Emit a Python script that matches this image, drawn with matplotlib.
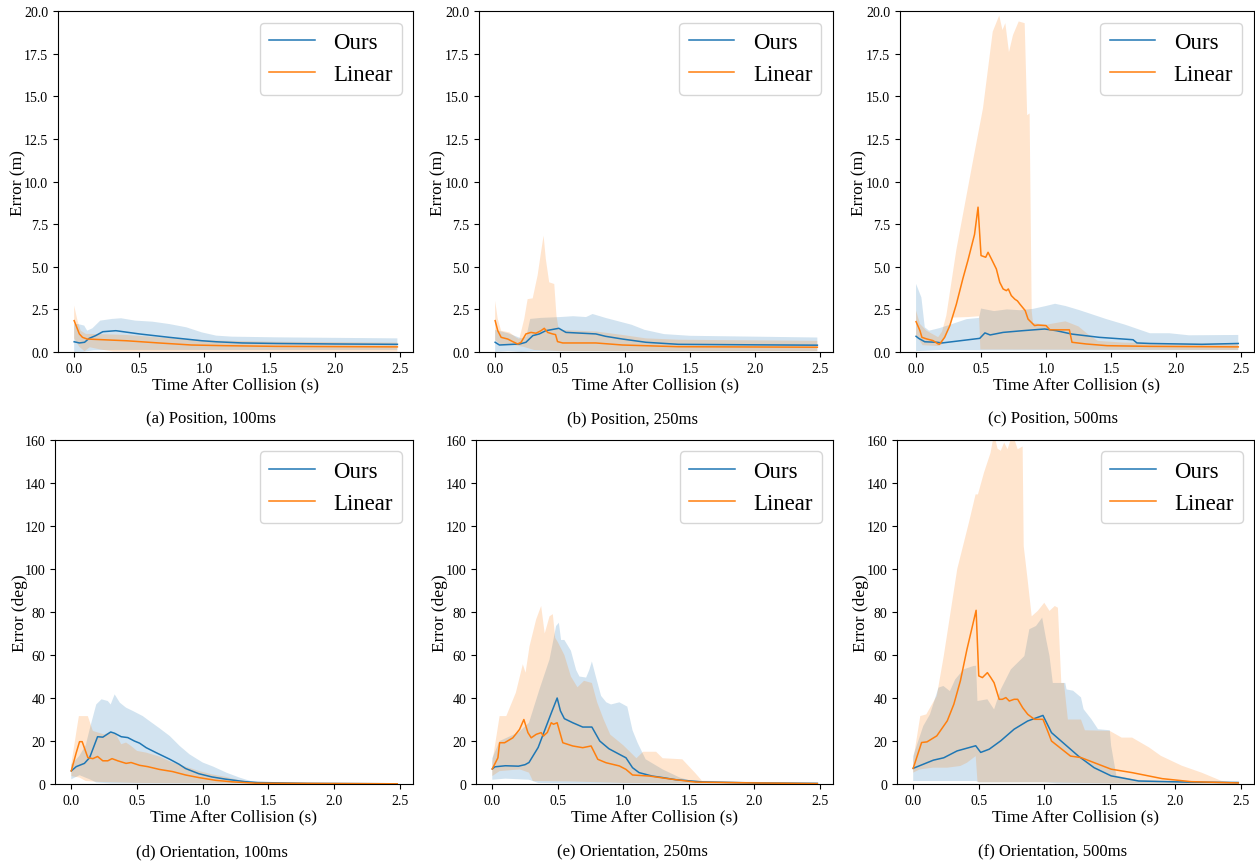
import numpy as np
import matplotlib
matplotlib.use("Agg")
import matplotlib.pyplot as plt

plt.rcParams.update({"font.family": "Liberation Serif"})
BLUE, ORANGE = "#1f77b4", "#ff7f0e"

# ---- (a) position, 100ms ----  (time s, error)
a_ours = [(0, 0.6), (0.04, 0.53), (0.08, 0.57), (0.115, 0.8), (0.165, 0.96), (0.22, 1.19), (0.32, 1.25),
          (0.5, 1.06), (0.73, 0.86), (0.98, 0.66), (1.09, 0.6), (1.29, 0.53), (1.55, 0.5), (2.0, 0.47), (2.48, 0.45)]
a_ours_up = [(0, 1.63), (0.03, 1.64), (0.077, 1.55), (0.1, 1.25), (0.14, 1.39), (0.2, 1.84), (0.29, 1.94),
             (0.36, 1.98), (0.47, 1.84), (0.6, 1.78), (0.73, 1.64), (0.86, 1.45), (0.98, 1.15), (1.09, 0.96),
             (1.21, 0.9), (1.55, 0.86), (2.0, 0.83), (2.48, 0.8)]
a_ours_lo = [(0, 0.0), (0.07, 0.02), (0.15, 0.1), (0.3, 0.12), (2.48, 0.12)]
a_lin = [(0, 1.84), (0.02, 1.45), (0.04, 1.06), (0.064, 0.86), (0.1, 0.76), (0.22, 0.72), (0.4, 0.66),
         (0.65, 0.53), (0.9, 0.41), (1.16, 0.37), (1.55, 0.33), (2.48, 0.3)]
a_lin_up = [(0, 2.72), (0.026, 1.84), (0.05, 1.25), (0.09, 1.06), (0.14, 1.06), (0.4, 1.0), (0.65, 0.86),
            (0.9, 0.72), (1.16, 0.66), (1.55, 0.6), (2.48, 0.55)]
a_lin_lo = [(0, 0.8), (0.04, 0.3), (0.08, 0.05), (0.12, 0.28), (0.2, 0.15), (0.3, 0.03), (2.48, 0.02)]

# ---- (b) position, 250ms ----
b_ours = [(0, 0.57), (0.033, 0.41), (0.19, 0.47), (0.237, 0.57), (0.29, 0.96), (0.34, 1.06), (0.39, 1.25),
          (0.49, 1.39), (0.545, 1.15), (0.775, 1.06), (0.85, 0.92), (0.98, 0.76), (1.16, 0.57), (1.41, 0.45),
          (2.0, 0.42), (2.48, 0.4)]
b_ours_up = [(0, 1.3), (0.1, 1.1), (0.2, 0.8), (0.24, 0.9), (0.27, 1.94), (0.35, 2.0), (0.5, 2.05), (0.6, 2.1),
             (0.7, 2.05), (0.75, 2.23), (0.85, 2.0), (0.95, 1.8), (1.05, 1.6), (1.15, 1.3), (1.3, 1.05),
             (1.5, 0.95), (2.0, 0.9), (2.48, 0.85)]
b_ours_lo = [(0, 0.0), (0.1, 0.05), (0.2, 0.0), (0.3, 0.05), (2.48, 0.05)]
b_lin = [(0, 1.84), (0.02, 1.25), (0.046, 0.86), (0.097, 0.76), (0.135, 0.61), (0.173, 0.47), (0.2, 0.57),
         (0.237, 1.06), (0.276, 1.15), (0.314, 1.1), (0.353, 1.25), (0.378, 1.39), (0.404, 1.15), (0.442, 1.06),
         (0.465, 1.02), (0.48, 0.61), (0.52, 0.53), (0.775, 0.53), (0.98, 0.41), (1.41, 0.31), (2.48, 0.28)]
b_lin_up = [(0, 3.0), (0.02, 1.94), (0.046, 1.25), (0.11, 1.15), (0.16, 0.86), (0.186, 0.76), (0.224, 1.94),
            (0.25, 3.1), (0.289, 3.15), (0.327, 4.5), (0.353, 5.85), (0.373, 6.83), (0.39, 5.46), (0.416, 4.09),
            (0.455, 3.99), (0.472, 2.13), (0.49, 1.3), (0.78, 1.2), (0.98, 1.0), (1.16, 0.8), (1.41, 0.72),
            (2.48, 0.65)]
b_lin_lo = [(0, 0.7), (0.05, 0.4), (0.15, 0.4), (0.22, 0.3), (0.3, 0.12), (0.5, 0.05), (2.48, 0.05)]

# ---- (c) position, 500ms ----
c_ours = [(0, 0.92), (0.02, 0.8), (0.067, 0.6), (0.16, 0.57), (0.2, 0.53), (0.49, 0.8), (0.53, 1.12),
          (0.57, 1.0), (0.67, 1.15), (0.82, 1.25), (0.99, 1.35), (1.08, 1.25), (1.2, 1.05), (1.41, 0.86),
          (1.67, 0.72), (1.7, 0.53), (1.8, 0.5), (2.2, 0.45), (2.48, 0.5)]
c_ours_up = [(0, 4.0), (0.041, 3.2), (0.067, 1.45), (0.1, 1.25), (0.18, 1.4), (0.3, 1.7), (0.39, 1.93),
             (0.485, 2.0), (0.5, 2.55), (0.6, 2.4), (0.7, 2.5), (0.8, 2.45), (0.9, 2.53), (1.0, 2.7),
             (1.07, 2.83), (1.15, 2.7), (1.26, 2.45), (1.465, 1.93), (1.61, 1.6), (1.8, 1.1), (1.95, 1.1),
             (2.1, 0.98), (2.48, 1.0)]
c_ours_lo = [(0, 0.05), (0.2, 0.12), (0.5, 0.1), (2.48, 0.1)]
c_lin = [(0, 1.78), (0.03, 1.25), (0.045, 0.86), (0.08, 0.77), (0.13, 0.67), (0.17, 0.47), (0.18, 0.45),
         (0.22, 0.86), (0.26, 1.55), (0.31, 2.8), (0.36, 4.3), (0.4, 5.4), (0.45, 6.9), (0.477, 8.5),
         (0.5, 5.66), (0.536, 5.56), (0.554, 5.85), (0.58, 5.46), (0.618, 4.87), (0.644, 4.09), (0.67, 3.7),
         (0.695, 3.6), (0.71, 3.7), (0.733, 3.31), (0.76, 3.1), (0.78, 3.0), (0.8, 2.8), (0.84, 2.43),
         (0.862, 1.93), (0.887, 1.74), (0.912, 1.55), (0.938, 1.58), (1.0, 1.55), (1.03, 1.3), (1.18, 1.3),
         (1.2, 0.57), (1.31, 0.47), (1.47, 0.37), (1.8, 0.33), (2.48, 0.3)]
c_lin_up = [(0, 2.43), (0.03, 1.65), (0.08, 1.25), (0.17, 0.87), (0.2, 1.2), (0.233, 2.14), (0.31, 6.0),
            (0.44, 11.3), (0.515, 14.3), (0.59, 18.8), (0.64, 19.75), (0.665, 18.9), (0.687, 19.3),
            (0.715, 17.6), (0.746, 18.6), (0.79, 19.4), (0.836, 19.3), (0.855, 13.9), (0.874, 14.0),
            (0.89, 2.4), (0.9, 1.7), (1.0, 1.6), (1.15, 1.8), (1.25, 1.5), (1.33, 1.0), (1.4, 0.65),
            (1.6, 0.55), (2.0, 0.5), (2.48, 0.5)]
c_lin_lo = [(0, 1.0), (0.05, 0.4), (0.17, 0.35), (0.2, 0.45), (0.28, 2.02), (0.4, 2.05), (0.485, 2.1),
            (0.495, 0.15), (2.48, 0.12)]

# ---- (d) orientation, 100ms ----
d_ours = [(0, 6.1), (0.038, 8.1), (0.1, 9.6), (0.14, 12.3), (0.2, 22), (0.24, 21.8), (0.3, 24.2), (0.33, 23.6),
          (0.38, 22), (0.43, 21.6), (0.48, 20), (0.52, 19), (0.57, 16.9), (0.645, 14.6), (0.75, 11.5),
          (0.82, 9.2), (0.87, 7.2), (0.97, 4.8), (1.07, 3.3), (1.17, 2.3), (1.32, 1.1), (1.42, 0.7), (1.8, 0.3),
          (2.48, 0.1)]
d_ours_up = [(0, 9), (0.06, 13), (0.11, 18), (0.14, 25.5), (0.19, 37), (0.23, 39.4), (0.278, 38.6), (0.3, 37),
             (0.33, 41.7), (0.37, 37.8), (0.417, 35.5), (0.468, 34), (0.544, 31.6), (0.595, 29.3), (0.67, 26),
             (0.75, 22.3), (0.825, 17.7), (0.9, 13.8), (1.0, 10), (1.08, 8.1), (1.18, 5.3), (1.28, 3.0),
             (1.38, 1.1), (1.48, 0.4), (1.8, 0.3), (2.48, 0.2)]
d_ours_lo = [(0, 2.2), (0.063, 4.1), (0.14, 2.2), (0.19, 0.7), (0.3, 0.3), (2.48, 0.05)]
d_lin = [(0, 6.1), (0.038, 14.6), (0.063, 19.7), (0.083, 19.7), (0.126, 12.3), (0.164, 11.8), (0.2, 12.8),
         (0.24, 10.8), (0.278, 10.8), (0.31, 11.8), (0.354, 10.8), (0.417, 9.6), (0.455, 10), (0.52, 8.7),
         (0.58, 8.1), (0.67, 6.8), (0.77, 5.8), (0.87, 4.2), (0.97, 3.0), (1.1, 1.7), (1.23, 1.0), (1.4, 0.4),
         (2.48, 0.1)]
d_lin_up = [(0, 9), (0.038, 24), (0.058, 31.6), (0.126, 31.6), (0.164, 24.7), (0.2, 24), (0.25, 23.1),
            (0.29, 24), (0.34, 23.1), (0.38, 18.5), (0.417, 19.3), (0.455, 17.7), (0.5, 15.4), (0.57, 14.6),
            (0.67, 12.8), (0.77, 10), (0.87, 8.1), (0.97, 6.1), (1.07, 4.5), (1.17, 3.4), (1.27, 1.9),
            (1.38, 0.7), (1.6, 0.3), (2.48, 0.1)]
d_lin_lo = [(0, 3.7), (0.063, 3.0), (0.11, 1.4), (0.21, 1.0), (0.5, 0.5), (2.48, 0.05)]

# ---- (e) orientation, 250ms ----
e_ours = [(0, 7), (0.02, 8), (0.1, 8.5), (0.2, 8.3), (0.25, 9), (0.28, 10), (0.35, 17), (0.4, 25), (0.45, 33),
          (0.495, 40), (0.52, 34), (0.55, 30.4), (0.614, 28.5), (0.69, 26.5), (0.76, 26.5), (0.82, 20),
          (0.89, 16.4), (0.97, 13.8), (1.02, 12.2), (1.07, 7.6), (1.12, 5.3), (1.22, 3.7), (1.3, 3), (1.4, 2),
          (1.5, 1.5), (1.6, 1), (2.0, 0.5), (2.48, 0.3)]
e_ours_up = [(0, 12), (0.056, 20), (0.2, 24), (0.28, 28.5), (0.36, 44), (0.437, 58), (0.487, 73.5),
             (0.508, 75), (0.525, 67), (0.55, 67), (0.6, 62), (0.64, 53), (0.665, 50), (0.716, 49.5),
             (0.74, 53), (0.76, 57), (0.79, 50), (0.83, 41), (0.87, 38), (0.906, 37), (0.97, 38), (1.03, 36),
             (1.07, 25), (1.11, 19), (1.17, 11.5), (1.3, 6.8), (1.43, 3), (1.55, 1), (2.0, 0.8), (2.48, 0.5)]
e_ours_lo = [(0, 2), (0.1, 2.5), (0.28, 2), (0.35, 0.5), (0.6, 0.3), (2.48, 0.1)]
e_lin = [(0, 7), (0.043, 12.2), (0.056, 19.2), (0.094, 19.2), (0.157, 21.5), (0.208, 25.4), (0.241, 30),
         (0.272, 23.9), (0.297, 21.5), (0.335, 23.1), (0.373, 23.9), (0.39, 22.3), (0.42, 24), (0.45, 28.5),
         (0.467, 27.8), (0.495, 28.5), (0.538, 19.2), (0.614, 17.7), (0.69, 16.9), (0.754, 17.7),
         (0.805, 11.5), (0.868, 9.9), (0.97, 8.4), (1.02, 6.8), (1.07, 4.2), (1.2, 3.7), (1.375, 2.2),
         (1.55, 0.9), (2.0, 0.5), (2.48, 0.2)]
e_lin_up = [(0, 10), (0.056, 31.6), (0.107, 31.6), (0.18, 42.5), (0.233, 55.7), (0.254, 51.8), (0.284, 64),
            (0.335, 76.6), (0.373, 82.8), (0.4, 70), (0.437, 78), (0.462, 79), (0.48, 68), (0.5, 66),
            (0.55, 60), (0.6, 50), (0.65, 45), (0.7, 48), (0.76, 47), (0.8, 38), (0.85, 30), (0.9, 23),
            (1.0, 18), (1.05, 15), (1.1, 12), (1.15, 15), (1.25, 15), (1.3, 12), (1.45, 11.5), (1.55, 5),
            (1.6, 1.5), (2.0, 1), (2.48, 0.3)]
e_lin_lo = [(0, 3.7), (0.056, 6), (0.21, 6.8), (0.28, 5.3), (0.31, 1.4), (0.6, 1.2), (1.0, 0.5), (2.48, 0.1)]

# ---- (f) orientation, 500ms ----
f_ours = [(0, 7.3), (0.154, 11.1), (0.233, 12.2), (0.335, 15.4), (0.477, 17.8), (0.515, 14.7), (0.58, 16.2),
          (0.668, 20.1), (0.77, 25.5), (0.873, 29.3), (0.99, 31.9), (1.055, 23.9), (1.26, 13), (1.38, 7.6),
          (1.51, 3.8), (1.72, 1.4), (2.1, 0.9), (2.48, 0.7)]
f_ours_up = [(0, 13), (0.077, 27), (0.128, 32.4), (0.193, 44.8), (0.23, 45.6), (0.28, 43.2), (0.32, 48.6),
             (0.384, 53.3), (0.46, 54.9), (0.48, 55), (0.49, 38.6), (0.566, 39.4), (0.617, 34.7), (0.668, 44),
             (0.745, 53.3), (0.848, 59.5), (0.886, 72), (0.937, 73.5), (0.984, 77.4), (1.015, 67), (1.04, 59.5),
             (1.065, 47), (1.16, 47), (1.17, 44), (1.22, 43.4), (1.28, 40.3), (1.3, 34.8), (1.36, 30.1),
             (1.41, 25.5), (1.5, 25), (1.51, 17.8), (1.55, 3.9), (1.7, 2), (2.0, 1), (2.48, 1)]
f_ours_lo = [(0, 1.4), (0.48, 1.4), (0.5, 0.8), (1.0, 0.8), (1.1, 0.3), (2.48, 0.2)]
f_lin = [(0, 7.3), (0.064, 19.3), (0.105, 19.6), (0.18, 22.4), (0.26, 29.4), (0.31, 37.1), (0.36, 48),
         (0.41, 62.6), (0.48, 80.8), (0.5, 50.3), (0.528, 49.5), (0.566, 51.8), (0.592, 49.5), (0.617, 47.1),
         (0.656, 39.4), (0.68, 39.4), (0.707, 40.2), (0.733, 38.6), (0.77, 39.4), (0.797, 39.4), (0.835, 35.5),
         (0.874, 32.4), (0.925, 30.1), (0.99, 30.1), (1.03, 24), (1.055, 20), (1.2, 13), (1.28, 12.3),
         (1.51, 6.9), (1.67, 5.3), (1.9, 2.5), (2.12, 1.1), (2.48, 0.5)]
f_lin_up = [(0, 11), (0.054, 31.6), (0.1, 32.4), (0.18, 41), (0.233, 59.5), (0.336, 100), (0.425, 121.6),
            (0.476, 134.7), (0.494, 134.7), (0.54, 144.8), (0.59, 154), (0.617, 163), (0.643, 156),
            (0.668, 155), (0.694, 158.8), (0.72, 155.7), (0.758, 163), (0.797, 155.7), (0.835, 157),
            (0.843, 110.7), (0.873, 95), (0.904, 78), (0.95, 80.5), (1.0, 84.3), (1.04, 80.5), (1.08, 82.8),
            (1.104, 82), (1.13, 47), (1.15, 47), (1.18, 30), (1.28, 30), (1.31, 25), (1.5, 24.7), (1.59, 21.6),
            (1.67, 21.6), (1.8, 17), (1.89, 13.1), (2.05, 8.5), (2.2, 5.3), (2.35, 1.5), (2.48, 0.5)]
f_lin_lo = [(0, 5.3), (0.05, 6.8), (0.15, 7.6), (0.26, 7.6), (0.36, 8.4), (0.41, 9.9), (0.477, 13),
            (0.49, 1.4), (0.5, 0.8), (1.0, 0.8), (1.5, 0.3), (2.48, 0.1)]

PANELS = [
    ("(a) Position, 100ms", "Error (m)", 20, a_ours, a_ours_up, a_ours_lo, a_lin, a_lin_up, a_lin_lo),
    ("(b) Position, 250ms", "Error (m)", 20, b_ours, b_ours_up, b_ours_lo, b_lin, b_lin_up, b_lin_lo),
    ("(c) Position, 500ms", "Error (m)", 20, c_ours, c_ours_up, c_ours_lo, c_lin, c_lin_up, c_lin_lo),
    ("(d) Orientation, 100ms", "Error (deg)", 160, d_ours, d_ours_up, d_ours_lo, d_lin, d_lin_up, d_lin_lo),
    ("(e) Orientation, 250ms", "Error (deg)", 160, e_ours, e_ours_up, e_ours_lo, e_lin, e_lin_up, e_lin_lo),
    ("(f) Orientation, 500ms", "Error (deg)", 160, f_ours, f_ours_up, f_ours_lo, f_lin, f_lin_up, f_lin_lo),
]

# axes rectangles in figure fractions, caption positions, y-label x offset (axes coords)
RECTS = [(0.0462, 0.5905, 0.2829, 0.3953), (0.3817, 0.5905, 0.2820, 0.3953), (0.7171, 0.5905, 0.2820, 0.3953),
         (0.0438, 0.0893, 0.2853, 0.3991), (0.3793, 0.0893, 0.2845, 0.3991), (0.7147, 0.0893, 0.2845, 0.3991)]
CAPS = [(0.168, 0.514), (0.504, 0.514), (0.839, 0.514), (0.169, 0.0116), (0.504, 0.0116), (0.839, 0.0116)]
YLAB_X = [-0.09, -0.093, -0.093, -0.075, -0.078, -0.078]


def xy(pts):
    t, v = zip(*pts)
    return np.array(t), np.array(v)


def band(ax, up, lo, color):
    tu, vu = xy(up)
    tl, vl = xy(lo)
    ax.fill(np.r_[tu, tl[::-1]], np.r_[vu, vl[::-1]], color=color, alpha=0.2, lw=0)


fig = plt.figure(figsize=(12.55, 8.62), dpi=100)
for (cap, ylab, ymax, mo, uo, lo_, ml, ul, ll), rect, (cx, cy), yx in zip(PANELS, RECTS, CAPS, YLAB_X):
    ax = fig.add_axes(rect)
    band(ax, uo, lo_, BLUE)
    band(ax, ul, ll, ORANGE)
    ax.plot(*xy(mo), color=BLUE, lw=1.1, label="Ours")
    ax.plot(*xy(ml), color=ORANGE, lw=1.1, label="Linear")
    ax.set_xlim(-0.124, 2.6)
    ax.set_ylim(0, ymax)
    ax.set_xticks([0, 0.5, 1.0, 1.5, 2.0, 2.5])
    ax.tick_params(labelsize=10)
    ax.set_xlabel("Time After Collision (s)", fontsize=12.5, labelpad=1)
    ax.set_ylabel(ylab, fontsize=12.5)
    ax.yaxis.set_label_coords(yx, 0.5)
    ax.legend(loc="upper right", fontsize=16.5, handlelength=2.0)
    fig.text(cx, cy, cap, ha="center", va="center", fontsize=12)

fig.savefig("out.png", dpi=100)
